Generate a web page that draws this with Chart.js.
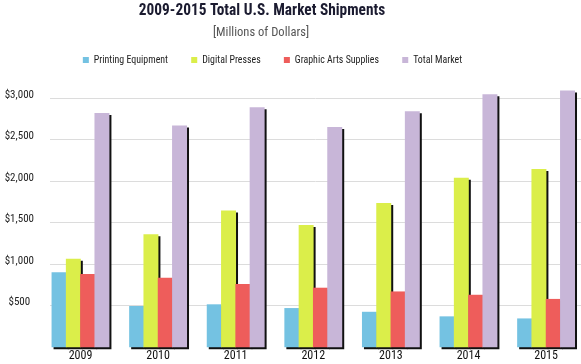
<!DOCTYPE html>
<html>
<head>
<meta charset="utf-8">
<script src="https://cdn.jsdelivr.net/npm/chart.js@4.4.1/dist/chart.umd.min.js"></script>
<style>
  html, body { margin: 0; padding: 0; background: #ffffff; overflow: hidden; }
  #wrap { position: relative; width: 581px; height: 364px; }
</style>
</head>
<body>
<div id="wrap"><canvas id="c" width="581" height="364"></canvas></div>
<script>
// ---- data ----
const years = ['2009', '2010', '2011', '2012', '2013', '2014', '2015'];
const printingEquipment = [900, 495, 515, 470, 425, 370, 345];
const digitalPresses = [1065, 1360, 1645, 1470, 1735, 2040, 2145];
const graphicArtsSupplies = [880, 835, 760, 715, 670, 630, 580];
const totalMarket = [2820, 2670, 2890, 2650, 2840, 3045, 3090];
const seriesNames = ['Printing Equipment', 'Digital Presses', 'Graphic Arts Supplies', 'Total Market'];
const yTickValues = [500, 1000, 1500, 2000, 2500, 3000];
const titleText = '2009-2015 Total U.S. Market Shipments';
const subtitleText = '[Millions of Dollars]';

const FONT = "'Liberation Sans Narrow', 'Roboto Condensed', 'Liberation Sans', Arial, sans-serif";
const colors = ['#74c2e2', '#dbee4a', '#ee5d5b', '#c8b6d8'];

// draw the bar datasets left-to-right so each bar covers the drop shadow of the one before it
const shadowOrder = {
  id: 'shadowOrder',
  beforeDatasetsDraw(chart) {
    const ctx = chart.ctx;
    ctx.save();
    ctx.shadowColor = '#111111';
    ctx.shadowBlur = 0;
    ctx.shadowOffsetX = 2;
    ctx.shadowOffsetY = 2;
    for (let i = 0; i < chart.data.datasets.length; i++) {
      const meta = chart.getDatasetMeta(i);
      if (!meta.hidden) meta.controller.draw();
    }
    ctx.restore();
    return false;
  }
};

// slightly condense the header boxes horizontally (the reference typeface is very narrow)
const condense = {
  id: 'condense',
  beforeDraw(chart) {
    chart.boxes.forEach((box) => {
      if (box._condensed) return;
      let cfg = null;
      if (box === chart.legend) cfg = { sx: 0.86, dx: 2 };
      else if (box.options && box.options.text === titleText) cfg = { sx: 0.93, dx: -8.5 };
      else if (box.options && box.options.text === subtitleText) cfg = { sx: 0.93, dx: -9.5 };
      if (!cfg) return;
      const orig = box.draw;
      box.draw = function (...args) {
        const ctx = chart.ctx;
        const cx = (this.left + this.right) / 2;
        ctx.save();
        ctx.translate(cx + cfg.dx, 0);
        ctx.scale(cfg.sx, 1);
        ctx.translate(-cx, 0);
        orig.apply(this, args);
        ctx.restore();
      };
      box._condensed = true;
    });
  }
};

const allSeries = [printingEquipment, digitalPresses, graphicArtsSupplies, totalMarket];

new Chart(document.getElementById('c'), {
  type: 'bar',
  data: {
    labels: years,
    datasets: allSeries.map((d, i) => ({
      label: seriesNames[i],
      data: d,
      backgroundColor: colors[i],
      borderWidth: 0,
      barThickness: 14.3
    }))
  },
  plugins: [shadowOrder, condense],
  options: {
    responsive: false,
    animation: false,
    layout: { padding: { left: -40, right: 0, top: 0, bottom: 0.2 } },
    plugins: {
      title: {
        display: true,
        text: titleText,
        color: '#1b1b30',
        font: { family: FONT, size: 16.5, weight: 'bold' },
        padding: { top: 1, bottom: 0 }
      },
      subtitle: {
        display: true,
        text: subtitleText,
        color: '#555555',
        font: { family: FONT, size: 13.5 },
        padding: { top: 4, bottom: -13.75 }
      },
      legend: {
        display: true,
        position: 'top',
        labels: {
          boxWidth: 7,
          boxHeight: 6,
          padding: 27,
          color: '#222222',
          font: { family: FONT, size: 11.5 }
        }
      },
      tooltip: { enabled: false }
    },
    scales: {
      x: {
        type: 'linear',
        min: 2008.607,
        max: 2015.45,
        offset: false,
        grid: { display: false, drawTicks: false },
        border: { display: false },
        ticks: {
          stepSize: 1,
          includeBounds: false,
          autoSkip: false,
          maxRotation: 0,
          padding: 1,
          color: '#111111',
          font: { family: FONT, size: 12 },
          callback: (v) => String(v)
        }
      },
      y: {
        min: 0,
        max: 3272,
        border: { display: false },
        grid: {
          drawTicks: false,
          color: (c) => (c.tick && c.tick.value === 0) ? 'rgba(0,0,0,0)' : '#dcdcdc',
          lineWidth: 1
        },
        afterBuildTicks: (s) => {
          s.ticks = [0].concat(yTickValues).map(v => ({ value: v }));
        },
        ticks: {
          crossAlign: 'center',
          padding: 16,
          labelOffset: -3.5,
          color: '#222222',
          font: { family: FONT, size: 11 },
          callback: (v) => v === 0 ? '' : '$' + v.toLocaleString('en-US')
        },
        afterFit: (s) => { s.width = 90; s.paddingTop = 0; s.paddingBottom = 0; }
      }
    }
  }
});
</script>
</body>
</html>
